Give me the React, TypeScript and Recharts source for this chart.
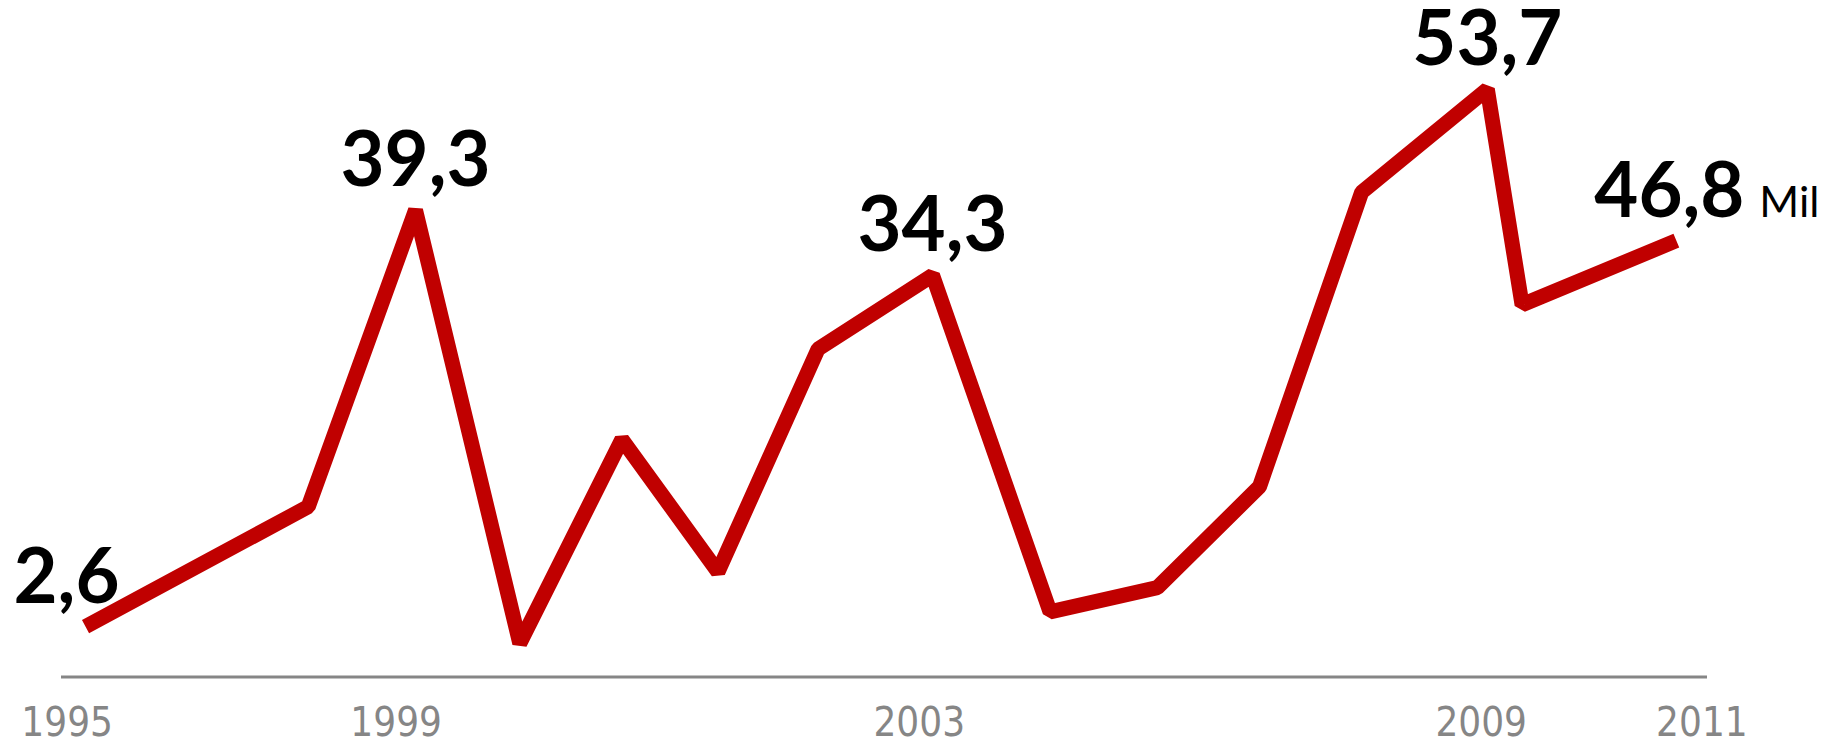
import { LineChart, Line, XAxis, YAxis, LabelList } from "recharts";

// position of each vertex along the timeline (years, as drawn)
const years = [
  1995.18, 1997.36, 1998.41, 1999.43, 2000.43, 2001.37, 2002.35, 2003.47,
  2004.62, 2005.67, 2006.67, 2007.67, 2008.9, 2009.24, 2010.75
];
// height of each vertex (millions, as drawn)
const values = [
  2.6, 14.0, 42.2, 1.0, 20.4, 7.8, 29.0, 36.0, 4.0, 6.3, 15.9, 43.9, 53.7,
  33.2, 39.3
];
// printed value labels ("" = no label)
const labels = [
  "2,6", "", "39,3", "", "", "", "", "34,3", "", "", "", "", "53,7", "", "46,8"
];
const unit = "Mil";

// axis labels and where they sit on the timeline
const tickLabels = ["1995", "1999", "2003", "2009", "2011"];
const tickPositions = [1995.0, 1998.22, 2003.34, 2008.84, 2011.0];

const data = years.map((t, i) => ({ t, value: values[i], label: labels[i] }));

const RED = "#C00000";
const GREY = "#868686";

function YearTick(props: any) {
  const { x, y, payload } = props;
  const i = tickPositions.indexOf(payload.value);
  return (
    <text
      x={x}
      y={y + 59}
      textAnchor="middle"
      fill={GREY}
      fontSize={40}
      fontFamily="'DejaVu Sans Condensed', 'DejaVu Sans', sans-serif"
      style={{ fontStretch: "condensed" }}
    >
      {tickLabels[i]}
    </text>
  );
}

function ValueLabel(props: any) {
  const { x, y, value, index } = props;
  if (!value) return null;
  const last = index === years.length - 1;
  const cx = index === 0 ? x - 19 : last ? x - 7 : x;
  return (
    <g>
      <text
        x={cx}
        y={y - 24}
        textAnchor="middle"
        fill="#000"
        fontSize={76}
        fontWeight={700}
        fontFamily="Lato, sans-serif"
      >
        {value}
      </text>
      {last && (
        <text
          x={cx + 90}
          y={y - 24}
          textAnchor="start"
          fill="#000"
          fontSize={43}
          fontFamily="Lato, sans-serif"
        >
          {unit}
        </text>
      )}
    </g>
  );
}

export default function App() {
  return (
    <div style={{ position: "absolute", left: 0, top: 0, background: "#fff" }}>
      <LineChart
        width={1826}
        height={741}
        data={data}
        margin={{ top: 23, right: 119, left: 61, bottom: 0 }}
      >
        <XAxis
          dataKey="t"
          type="number"
          domain={[1994.94, 2011.05]}
          ticks={tickPositions}
          interval={0}
          tick={<YearTick />}
          tickLine={false}
          tickSize={0}
          tickMargin={0}
          axisLine={{ stroke: GREY, strokeWidth: 3 }}
          height={64}
          allowDataOverflow
        />
        <YAxis hide domain={[-2.2, 60]} allowDataOverflow />
        <Line
          type="linear"
          dataKey="value"
          stroke={RED}
          strokeWidth={15}
          strokeLinejoin="bevel"
          strokeLinecap="butt"
          dot={false}
          activeDot={false}
          isAnimationActive={false}
        >
          <LabelList dataKey="label" content={<ValueLabel />} />
        </Line>
      </LineChart>
    </div>
  );
}
